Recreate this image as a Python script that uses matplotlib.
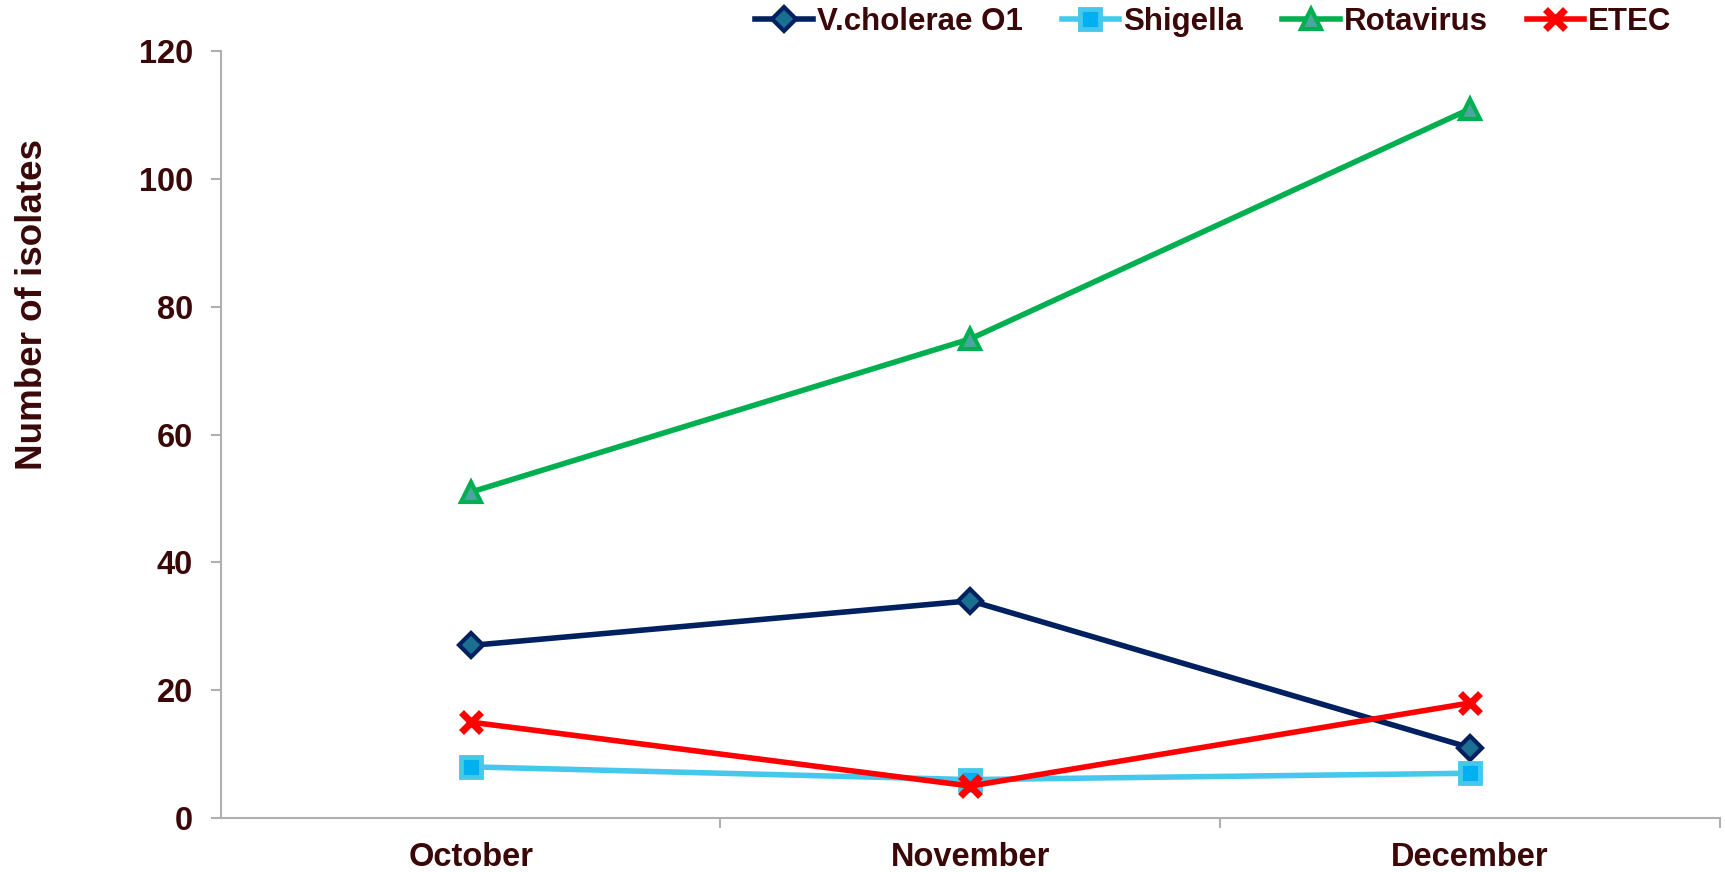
import matplotlib
matplotlib.use("Agg")
import matplotlib.pyplot as plt
import numpy as np

plt.rcParams['font.family'] = ['Liberation Sans', 'DejaVu Sans']

months = ["October", "November", "December"]
vcholerae = [27, 34, 11]
shigella = [8, 6, 7]
rotavirus = [51, 75, 111]
etec = [15, 5, 18]

txt = "#3a0808"
fig = plt.figure(figsize=(17.25, 8.72), dpi=100)
ax = fig.add_axes([0.128, 0.062, 0.869, 0.879])
x = np.arange(len(months))

ax.plot(x, vcholerae, color="#002060", lw=4, marker="D", ms=12,
        mfc="#1a7090", mec="#002060", mew=3, label="V.cholerae O1")
ax.plot(x, shigella, color="#45c8ec", lw=4, marker="s", ms=15,
        mfc="#00b0f0", mec="#45c8ec", mew=3.5, label="Shigella")
ax.plot(x, rotavirus, color="#00b050", lw=4, marker="^", ms=15,
        mfc="#4ba5a0", mec="#00b050", mew=3, label="Rotavirus")
ax.plot(x, etec, color="#ff0000", lw=4, marker="x", ms=14,
        mew=5, label="ETEC")

ax.set_xlim(-0.5, 2.5)
ax.set_ylim(0, 120)
ax.set_yticks(np.arange(0, 121, 20))
ax.set_xticks(x)
ax.set_xticklabels(months)
ax.set_xticks([0.5, 1.5, 2.5], minor=True)
ax.tick_params(axis="x", which="major", length=0, pad=17)
ax.tick_params(axis="x", which="minor", length=7, color="#b0b0b0", width=1.5)
ax.tick_params(axis="y", length=7, color="#b0b0b0", width=1.5, pad=13)
for lab in ax.get_xticklabels() + ax.get_yticklabels():
    lab.set_fontsize(23.5)
    lab.set_fontweight("bold")
    lab.set_color(txt)

for s in ["top", "right"]:
    ax.spines[s].set_visible(False)
for s in ["left", "bottom"]:
    ax.spines[s].set_color("#b0b0b0")
    ax.spines[s].set_linewidth(1.5)

ax.set_ylabel("Number of isolates", fontsize=26.5, fontweight="bold", color=txt)
ax.yaxis.set_label_coords(-0.114, 0.67)

leg = fig.legend(loc="center right", bbox_to_anchor=(0.969, 0.975), ncol=4, frameon=False,
                 handlelength=1.85, columnspacing=1.25, handletextpad=0.12,
                 borderaxespad=0, borderpad=0, prop={"size": 22.5, "weight": "bold"})
for t in leg.get_texts():
    t.set_color(txt)

fig.savefig("out.png", dpi=100)
